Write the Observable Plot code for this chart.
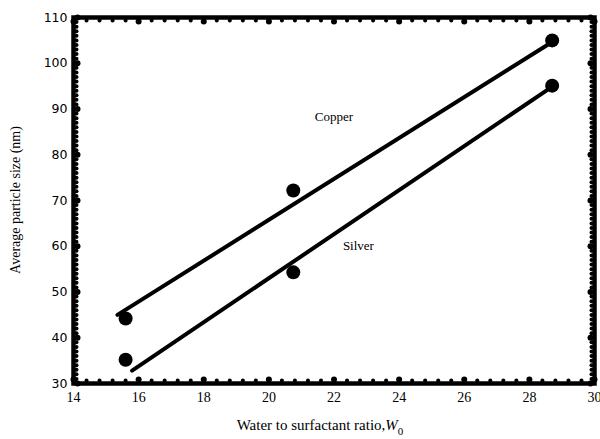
<!DOCTYPE html>
<html><head><meta charset="utf-8">
<script src="https://cdn.jsdelivr.net/npm/d3@7"></script>
<script src="https://cdn.jsdelivr.net/npm/@observablehq/plot@0.6"></script>
<style>body{margin:0;background:#fff}</style>
</head><body><div id="chart"></div>
<script>
const waterRatio = [15.6, 20.75, 28.7];
const copperSize = [44.2, 72.2, 105];
const silverSize = [35.2, 54.3, 95.1];
const copperFitX = [15.35, 28.6];
const copperFitY = [45, 104.2];
const silverFitX = [15.8, 28.6];
const silverFitY = [32.8, 94.4];
const xTicks = [14, 16, 18, 20, 22, 24, 26, 28, 30];
const yTicks = [30, 40, 50, 60, 70, 80, 90, 100, 110];
const seriesLabels = ["Copper", "Silver"];
const labelX = [22, 22.75];
const labelY = [88.2, 60.2];
const xTitle = "Water to surfactant ratio,";
const yTitle = "Average particle size (nm)";

const xMinor = d3.range(14, 30.001, 0.4).map(v => +v.toFixed(1)).filter(v => !xTicks.includes(v));
const yMinor = d3.range(30, 110.001, 1).filter(v => !yTicks.includes(v));

const points = [
  ...waterRatio.map((x, i) => ({x, y: copperSize[i]})),
  ...waterRatio.map((x, i) => ({x, y: silverSize[i]}))
];
const fitCopper = copperFitX.map((x, i) => ({x, y: copperFitY[i]}));
const fitSilver = silverFitX.map((x, i) => ({x, y: silverFitY[i]}));
const labels = seriesLabels.map((t, i) => ({t, x: labelX[i], y: labelY[i]}));

const minorR = 2, majorR = 3, off = 3;

const plot = Plot.plot({
  width: 600, height: 439,
  marginLeft: 73, marginRight: 6, marginTop: 17, marginBottom: 56,
  x: {domain: [14, 30]},
  y: {domain: [30, 110]},
  style: {background: "#fff", color: "#000"},
  marks: [
    Plot.line(fitCopper, {x: "x", y: "y", stroke: "#000", strokeWidth: 4}),
    Plot.line(fitSilver, {x: "x", y: "y", stroke: "#000", strokeWidth: 4}),
    Plot.dot(points, {x: "x", y: "y", r: 7, fill: "#000"}),
    Plot.text(labels, {x: "x", y: "y", text: "t", fontFamily: "Liberation Serif", fontSize: 13, fill: "#000"}),
    // minor ticks (inward bumps)
    Plot.dot(xMinor, {x: d => d, frameAnchor: "bottom", dy: -off, r: minorR, fill: "#000"}),
    Plot.dot(xMinor, {x: d => d, frameAnchor: "top", dy: off, r: minorR, fill: "#000"}),
    Plot.dot(yMinor, {y: d => d, frameAnchor: "left", dx: off, r: minorR, fill: "#000"}),
    Plot.dot(yMinor, {y: d => d, frameAnchor: "right", dx: -off, r: minorR, fill: "#000"}),
    // major ticks
    Plot.dot(xTicks, {x: d => d, frameAnchor: "bottom", dy: -off - 1, r: majorR, fill: "#000"}),
    Plot.dot(xTicks, {x: d => d, frameAnchor: "top", dy: off + 1, r: majorR, fill: "#000"}),
    Plot.dot(yTicks, {y: d => d, frameAnchor: "left", dx: off + 1, r: majorR, fill: "#000"}),
    Plot.dot(yTicks, {y: d => d, frameAnchor: "right", dx: -off - 1, r: majorR, fill: "#000"}),
    // tick labels
    Plot.axisX(xTicks, {anchor: "bottom", tickSize: 0, tickPadding: 9, label: null, fontFamily: "Liberation Serif", fontSize: 14}),
    Plot.axisY(yTicks, {anchor: "left", tickSize: 0, tickPadding: 6, label: null, fontFamily: "DejaVu Sans", fontSize: 12.5}),
    Plot.frame({stroke: "#000", strokeWidth: 4.5})
  ]
});
document.getElementById("chart").appendChild(plot);

const svg = d3.select(plot);
const xt = svg.append("text")
  .attr("x", 320).attr("y", 430)
  .attr("text-anchor", "middle")
  .attr("font-family", "Liberation Serif").attr("font-size", 15).attr("fill", "#000");
xt.append("tspan").text(xTitle);
xt.append("tspan").attr("font-style", "italic").text("W");
xt.append("tspan").attr("dy", 5).attr("font-size", 11).text("0");

svg.append("text")
  .attr("transform", "translate(20,200) rotate(-90)")
  .attr("text-anchor", "middle")
  .attr("font-family", "Liberation Serif").attr("font-size", 14).attr("fill", "#000")
  .text(yTitle);
</script>
</body></html>
